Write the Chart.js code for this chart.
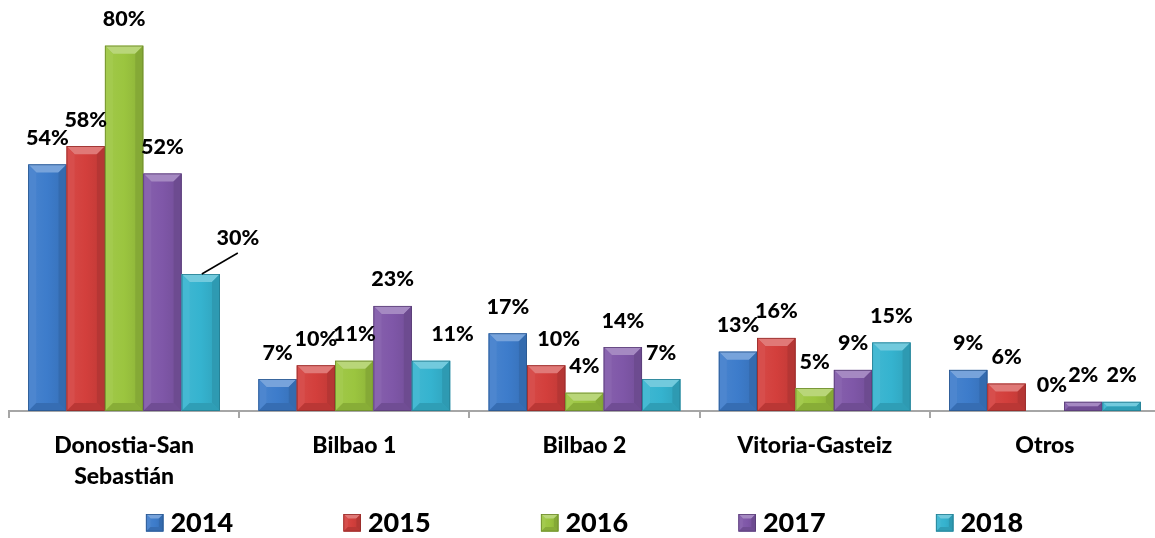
<!DOCTYPE html>
<html><head><meta charset="utf-8">
<script src="https://cdn.jsdelivr.net/npm/chart.js@4"></script>
<style>html,body{margin:0;padding:0;overflow:hidden;background:#fff;width:1155px;height:538px}canvas{display:block}</style>
</head><body>
<canvas id="c" width="1160" height="538"></canvas>
<script>
// ---- data ----
const categories = [['Donostia-San', 'Sebastián'], 'Bilbao 1', 'Bilbao 2', 'Vitoria-Gasteiz', 'Otros'];
const seriesNames = ['2014', '2015', '2016', '2017', '2018'];
const v2014 = [54, 7, 17, 13, 9];
const v2015 = [58, 10, 10, 16, 6];
const v2016 = [80, 11, 4, 5, 0];
const v2017 = [52, 23, 14, 9, 2];
const v2018 = [30, 11, 7, 15, 2];
const seriesValues = [v2014, v2015, v2016, v2017, v2018];

// ---- styles ----
const seriesColors = ['#3D7CCB', '#D33F3C', '#9BC53F', '#7F57A8', '#35B3CF'];
const FONT = 'Lato, "Open Sans", sans-serif';
const WEIGHT = '900';
// manual label nudges (like Excel's moved labels): key "series,category"
const labelNudge = {
  '4,0': {dx: 37, dy: -10, leader: true},
  '4,1': {dx: 21.5, dy: 0},
  '1,2': {dx: 12.5, dy: 0},
  '2,4': {dx: 7, dy: 0}
};

function shade(hex, amt) {
  const n = parseInt(hex.slice(1), 16);
  let r = (n >> 16) & 255, g = (n >> 8) & 255, b = n & 255;
  const f = c => Math.max(0, Math.min(255, Math.round(amt >= 0 ? c + (255 - c) * amt : c * (1 + amt))));
  return `rgb(${f(r)},${f(g)},${f(b)})`;
}

function bevelRect(ctx, l, t, r, bot, color, b) {
  const h = bot - t;
  if (h <= 0.5) return;
  b = Math.min(b, h / 2, (r - l) / 2);
  ctx.save();
  const g = ctx.createLinearGradient(l, 0, r, 0);
  g.addColorStop(0, shade(color, 0.06));
  g.addColorStop(0.5, color);
  g.addColorStop(1, shade(color, -0.1));
  ctx.fillStyle = g;
  ctx.fillRect(l, t, r - l, h);
  // top bevel
  ctx.beginPath();
  ctx.moveTo(l, t); ctx.lineTo(r, t); ctx.lineTo(r - b, t + b); ctx.lineTo(l + b, t + b); ctx.closePath();
  ctx.fillStyle = shade(color, 0.3); ctx.fill();
  // left bevel
  ctx.beginPath();
  ctx.moveTo(l, t); ctx.lineTo(l + b, t + b); ctx.lineTo(l + b, bot - b); ctx.lineTo(l, bot); ctx.closePath();
  ctx.fillStyle = shade(color, 0.08); ctx.fill();
  // right bevel
  ctx.beginPath();
  ctx.moveTo(r, t); ctx.lineTo(r, bot); ctx.lineTo(r - b, bot - b); ctx.lineTo(r - b, t + b); ctx.closePath();
  ctx.fillStyle = shade(color, -0.14); ctx.fill();
  // bottom bevel
  ctx.beginPath();
  ctx.moveTo(l, bot); ctx.lineTo(r, bot); ctx.lineTo(r - b, bot - b); ctx.lineTo(l + b, bot - b); ctx.closePath();
  ctx.fillStyle = shade(color, -0.12); ctx.fill();
  // edge
  ctx.strokeStyle = shade(color, -0.3);
  ctx.lineWidth = 0.8;
  ctx.strokeRect(l + 0.4, t + 0.4, r - l - 0.8, h - 0.8);
  ctx.restore();
}

const bevelBars = {
  id: 'bevelBars',
  afterDatasetsDraw(chart) {
    const ctx = chart.ctx;
    chart.data.datasets.forEach((ds, i) => {
      const meta = chart.getDatasetMeta(i);
      meta.data.forEach(el => {
        const p = el.getProps(['x', 'y', 'base', 'width'], true);
        bevelRect(ctx, p.x - p.width / 2, p.y, p.x + p.width / 2, p.base, seriesColors[i], 8);
      });
    });
  }
};

const valueLabels = {
  id: 'valueLabels',
  afterDatasetsDraw(chart) {
    const ctx = chart.ctx;
    ctx.save();
    ctx.font = WEIGHT + ' 21.5px ' + FONT;
    ctx.fillStyle = '#000';
    ctx.textAlign = 'center';
    ctx.textBaseline = 'alphabetic';
    chart.data.datasets.forEach((ds, i) => {
      const meta = chart.getDatasetMeta(i);
      meta.data.forEach((el, j) => {
        const p = el.getProps(['x', 'y'], true);
        const n = labelNudge[i + ',' + j] || {dx: 0, dy: 0};
        const tx = p.x + n.dx, ty = p.y - 19.5 + n.dy;
        if (n.leader) {
          ctx.beginPath();
          ctx.moveTo(p.x + 1, p.y);
          ctx.lineTo(tx, p.y - 21);
          ctx.strokeStyle = '#000';
          ctx.lineWidth = 1.5;
          ctx.stroke();
        }
        ctx.fillText(ds.data[j] + '%', tx, ty);
      });
    });
    ctx.restore();
  }
};

const bottomLegend = {
  id: 'bottomLegend',
  afterDraw(chart) {
    const ctx = chart.ctx;
    const ca = chart.chartArea;
    const box = 17.5, gap = 7, pitch = 197.5;
    ctx.save();
    ctx.font = WEIGHT + ' 27px ' + FONT;
    ctx.textBaseline = 'alphabetic';
    ctx.textAlign = 'left';
    const n = chart.data.datasets.length;
    const lastW = box + gap + ctx.measureText(chart.data.datasets[n - 1].label).width;
    const total = (n - 1) * pitch + lastW;
    let x0 = (ca.left + ca.right) / 2 - total / 2;
    const baseline = 532;
    chart.data.datasets.forEach((ds, i) => {
      const x = x0 + i * pitch;
      bevelRect(ctx, x, baseline - 18, x + box, baseline - 0.5, seriesColors[i], 4.5);
      ctx.fillStyle = '#000';
      ctx.fillText(ds.label, x + box + gap, baseline);
    });
    ctx.restore();
  }
};

new Chart(document.getElementById('c'), {
  type: 'bar',
  data: {
    labels: categories,
    datasets: seriesNames.map((name, i) => ({
      label: name,
      data: seriesValues[i],
      backgroundColor: 'rgba(0,0,0,0)',
      borderWidth: 0,
      categoryPercentage: 0.833,
      barPercentage: 1
    }))
  },
  options: {
    responsive: false,
    animation: false,
    devicePixelRatio: 1,
    layout: {padding: {left: 9, right: 0, top: 0, bottom: 46}},
    plugins: {legend: {display: false}, tooltip: {enabled: false}},
    scales: {
      y: {display: false, min: 0, max: 90},
      x: {
        afterFit(scale) { scale.height = 81; },
        grid: {offset: true, drawOnChartArea: false, drawTicks: true, tickLength: 7, color: '#A6A6A6', lineWidth: 2},
        border: {display: true, color: '#A6A6A6', width: 2},
        ticks: {
          color: '#000',
          padding: 12,
          maxRotation: 0,
          autoSkip: false,
          font: {family: FONT, size: 23, weight: WEIGHT, lineHeight: 31 / 23}
        }
      }
    }
  },
  plugins: [bevelBars, valueLabels, bottomLegend]
});
</script>
</body></html>
